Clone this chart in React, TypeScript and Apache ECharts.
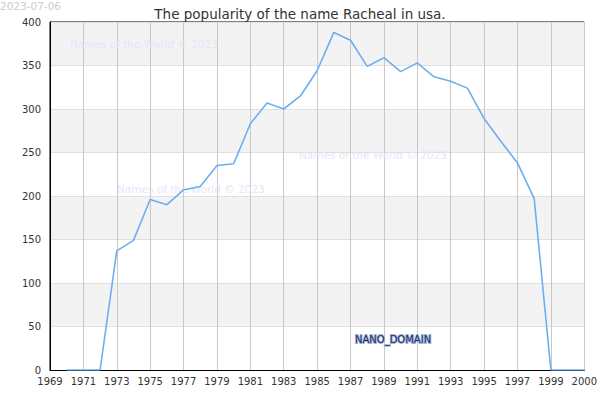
import React, { useEffect, useRef } from "react";
import * as echarts from "echarts";

const years = [1970, 1971, 1972, 1973, 1974, 1975, 1976, 1977, 1978, 1979, 1980, 1981, 1982, 1983, 1984, 1985, 1986, 1987, 1988, 1989, 1990, 1991, 1992, 1993, 1994, 1995, 1996, 1997, 1998, 1999, 2000, 2001];
const counts = [0, 0, 0, 137, 149, 196, 190, 207, 211, 235, 237, 283, 307, 300, 315, 344, 388, 379, 349, 359, 343, 353, 337, 332, 324, 289, 263, 238, 197, 0, 0, 0];
const xStartYear = 1969;
const xEndYear = 2001;
const xTickLabels = ["1969", "1971", "1973", "1975", "1977", "1979", "1981", "1983", "1985", "1987", "1989", "1991", "1993", "1995", "1997", "1999", "2000"];
const yTicks = [0, 50, 100, 150, 200, 250, 300, 350, 400];
const titleText = "The popularity of the name Racheal in usa.";
const dateText = "2023-07-06";
const watermark = "Names of the World © 2023";
const domainText = "NANO_DOMAIN";

export default function App() {
  const ref = useRef<HTMLDivElement>(null);
  useEffect(() => {
    if (!ref.current) return;
    const chart = echarts.init(ref.current, null, { renderer: "svg" });
    const data = years.map((y, i) => [y - xStartYear, counts[i]]);
    const wmStyle = { fill: "#e6e6f8", fontSize: 10.5, fontFamily: "DejaVu Sans" };
    chart.setOption({
      animation: false,
      textStyle: { fontFamily: "DejaVu Sans" },
      title: {
        text: titleText,
        left: "center",
        top: 2,
        textStyle: { fontSize: 13.5, fontWeight: "normal", color: "#333" },
      },
      grid: {
        left: 50,
        right: 15,
        top: 22,
        bottom: 30,
        show: true,
        borderColor: "#000",
        borderWidth: 1,
        backgroundColor: "transparent",
      },
      xAxis: {
        type: "value",
        min: 0,
        max: xEndYear - xStartYear,
        interval: 2,
        axisLine: { show: true, lineStyle: { color: "#000", width: 1 } },
        axisTick: { show: false },
        axisLabel: {
          color: "#333",
          fontSize: 10,
          margin: 6,
          showMinLabel: true,
          showMaxLabel: true,
          hideOverlap: false,
          formatter: (v: number) => xTickLabels[Math.round(v / 2)] ?? "",
        },
        splitLine: { show: true, lineStyle: { color: "#c8c8c8", width: 1 } },
      },
      yAxis: {
        type: "value",
        min: yTicks[0],
        max: yTicks[yTicks.length - 1],
        interval: yTicks[1] - yTicks[0],
        axisLine: { show: true, lineStyle: { color: "#000", width: 1 } },
        axisTick: { show: false },
        axisLabel: { color: "#333", fontSize: 10, margin: 9 },
        splitLine: { show: true, lineStyle: { color: "#e0e0e0", width: 1 } },
        splitArea: { show: true, areaStyle: { color: ["#ffffff", "#f3f3f3"] } },
      },
      series: [
        {
          type: "line",
          data,
          symbol: "none",
          lineStyle: { color: "#6caff0", width: 1.6 },
          z: 5,
        },
      ],
      graphic: [
        { type: "text", left: 0, top: 0, z: 100, style: { text: dateText, fill: "#cccccc", fontSize: 10.5, fontFamily: "DejaVu Sans" } },
        { type: "text", x: 70, y: 38, z: 1, style: { text: watermark, ...wmStyle } },
        { type: "text", x: 117, y: 183, z: 1, style: { text: watermark, ...wmStyle } },
        { type: "text", x: 299, y: 149, z: 1, style: { text: watermark, ...wmStyle } },
        {
          type: "text",
          x: 355,
          y: 334,
          z: 100,
          style: {
            text: domainText,
            fill: "#1e3264",
            stroke: "#a4b4dc",
            lineWidth: 1.8,
            fontSize: 10,
            fontWeight: "normal",
            fontFamily: "DejaVu Sans",
          },
        },
      ],
    });
    return () => chart.dispose();
  }, []);
  return <div ref={ref} style={{ width: 600, height: 400, position: "absolute", left: 0, top: 0 }} />;
}
